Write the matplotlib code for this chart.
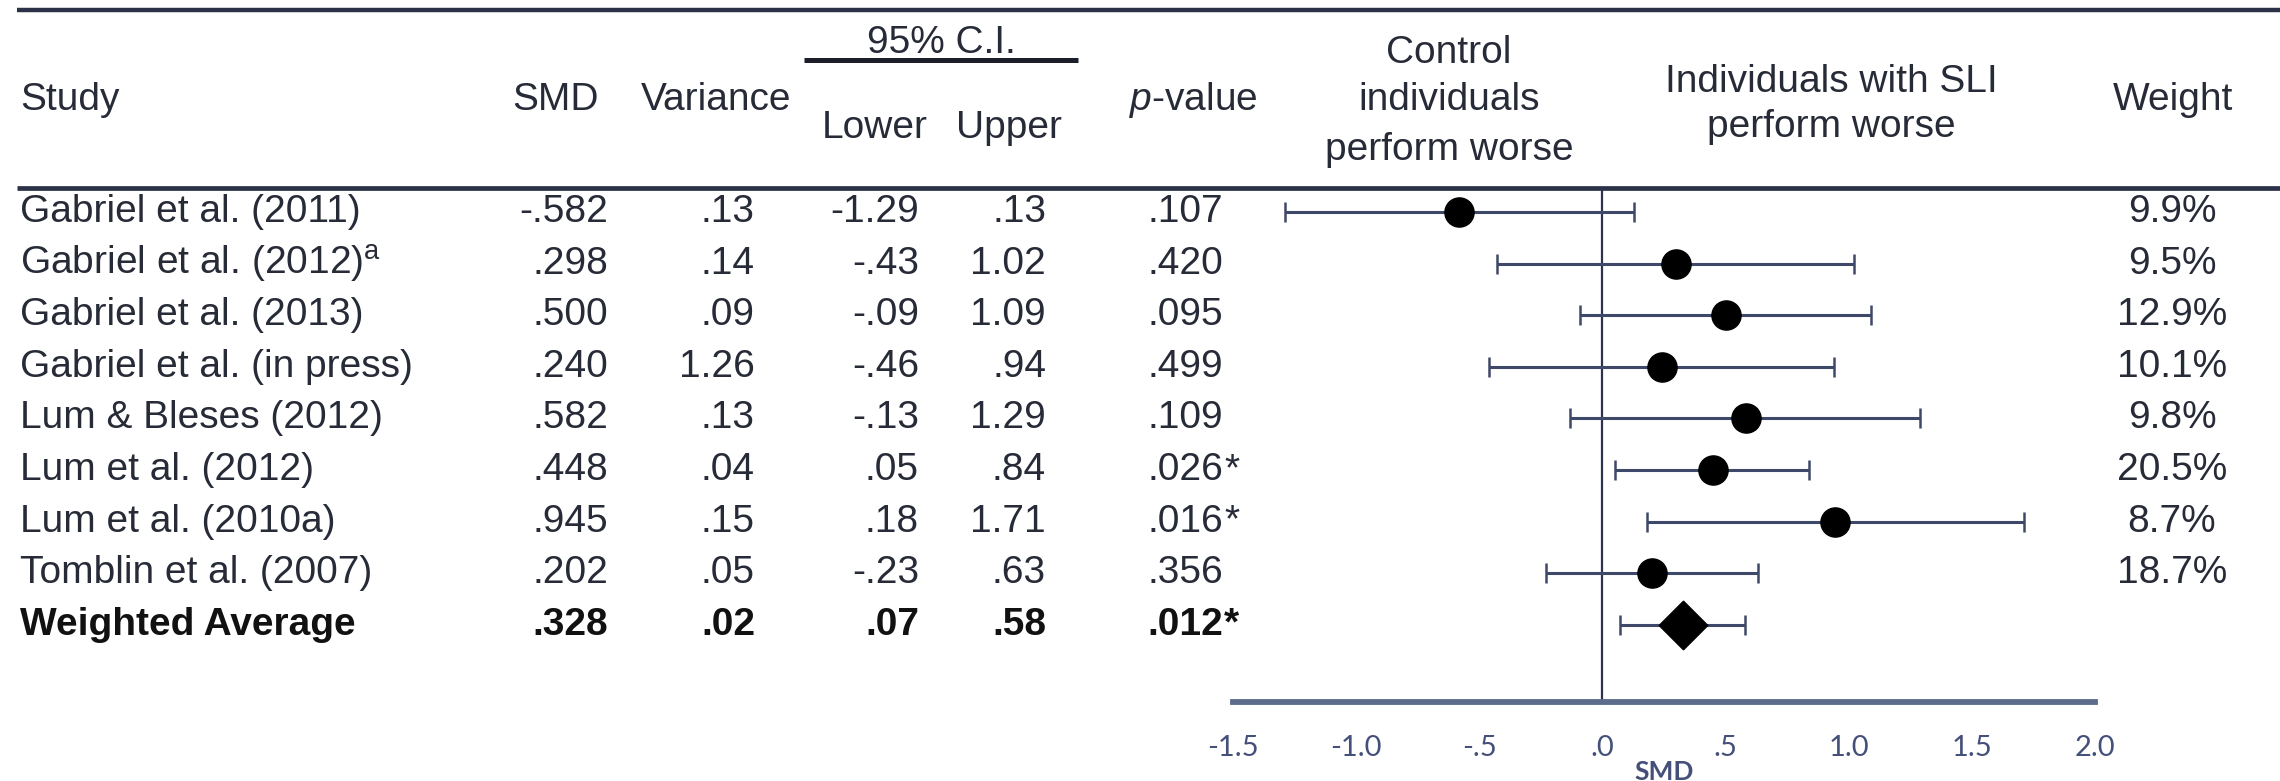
import matplotlib
matplotlib.use("Agg")
import matplotlib.pyplot as plt
import numpy as np

# ---- data -------------------------------------------------------------
studies = ["Gabriel et al. (2011)", "Gabriel et al. (2012)$^{\\mathrm{a}}$",
           "Gabriel et al. (2013)", "Gabriel et al. (in press)",
           "Lum & Bleses (2012)", "Lum et al. (2012)", "Lum et al. (2010a)",
           "Tomblin et al. (2007)"]
smd = [-0.582, 0.298, 0.500, 0.240, 0.582, 0.448, 0.945, 0.202]
variance = [0.13, 0.14, 0.09, 1.26, 0.13, 0.04, 0.15, 0.05]
lower = [-1.29, -0.43, -0.09, -0.46, -0.13, 0.05, 0.18, -0.23]
upper = [0.13, 1.02, 1.09, 0.94, 1.29, 0.84, 1.71, 0.63]
pvals = [0.107, 0.420, 0.095, 0.499, 0.109, 0.026, 0.016, 0.356]
weights = [9.9, 9.5, 12.9, 10.1, 9.8, 20.5, 8.7, 18.7]

pooled_label = "Weighted Average"
pooled_smd = 0.328
pooled_var = 0.02
pooled_lower = 0.07
pooled_upper = 0.58
pooled_p = 0.012

tick_values = [-1.5, -1.0, -0.5, 0.0, 0.5, 1.0, 1.5, 2.0]
tick_labels = ["-1.5", "-1.0", "-.5", ".0", ".5", "1.0", "1.5", "2.0"]


def fmt(v, nd):
    s = f"{v:.{nd}f}"
    return s.replace("0.", ".", 1) if abs(v) < 1 else s


# ---- styling ----------------------------------------------------------
plt.rcParams["font.family"] = ["Liberation Sans", "DejaVu Sans"]
plt.rcParams["mathtext.fontset"] = "custom"
plt.rcParams["mathtext.rm"] = "Liberation Sans"
plt.rcParams["mathtext.it"] = "Liberation Sans:italic"
plt.rcParams["mathtext.bf"] = "Liberation Sans:bold"

TXT = "#272b37"
RULE = "#2b3248"
CI = "#3e4868"
FS = 28

W, H = 2280, 781
fig = plt.figure(figsize=(W / 100, H / 100), dpi=100)
fig.patch.set_facecolor("white")

# full-figure layer in pixel units for the table
tab = fig.add_axes([0, 0, 1, 1])
tab.set_xlim(0, W)
tab.set_ylim(H, 0)
tab.axis("off")

row_y0, row_h = 212, 51.6
n = len(studies)

# rules
tab.plot([17, W], [10, 10], color=RULE, lw=3.2, solid_capstyle="butt")
tab.plot([17, W], [188, 188], color=RULE, lw=3.4, solid_capstyle="butt")
tab.plot([804, 1078], [60, 60], color="#1c1f2a", lw=3.6, solid_capstyle="butt")

# header
def htext(x, y, s, ha="center", **kw):
    tab.text(x, y, s, ha=ha, va="center", fontsize=FS, color=TXT, **kw)

htext(20, 100, "Study", ha="left")
htext(555, 100, "SMD")
htext(716, 100, "Variance")
htext(941, 43, "95% C.I.")
htext(875, 128, "Lower")
htext(1009, 128, "Upper")
htext(1193, 100, "$\\mathit{p}$-value")
htext(1449, 53, "Control")
htext(1449, 100, "individuals")
htext(1449, 150, "perform worse")
htext(1831, 82, "Individuals with SLI")
htext(1831, 127, "perform worse")
htext(2173, 100, "Weight")

# body rows
col_smd, col_var, col_low, col_up, col_p, col_w = 608, 755, 919, 1046, 1223, 2172


def row(i, name, s, v, lo, up, p, w=None, bold=False):
    y = row_y0 + i * row_h
    kw = dict(va="center", fontsize=FS, color="#111111" if bold else TXT,
              fontweight="bold" if bold else "normal")
    tab.text(20, y, name, ha="left", **kw)
    tab.text(col_smd, y, fmt(s, 3), ha="right", **kw)
    tab.text(col_var, y, fmt(v, 2), ha="right", **kw)
    tab.text(col_low, y, fmt(lo, 2), ha="right", **kw)
    tab.text(col_up, y, fmt(up, 2), ha="right", **kw)
    tab.text(col_p, y, fmt(p, 3), ha="right", **kw)
    if p < 0.05:
        tab.text(col_p + 1, y, "*", ha="left", **kw)
    if w is not None:
        tab.text(col_w, y, f"{w:.1f}%", ha="center", **kw)


for i in range(n):
    row(i, studies[i], smd[i], variance[i], lower[i], upper[i], pvals[i], weights[i])
row(n, pooled_label, pooled_smd, pooled_var, pooled_lower, pooled_upper, pooled_p, bold=True)

# ---- forest plot ------------------------------------------------------
x0, x1, top, bot = 1233, 2095, 188, 702
fa = fig.add_axes([x0 / W, 1 - bot / H, (x1 - x0) / W, (bot - top) / H])
fa.patch.set_alpha(0)
fa.set_xlim(tick_values[0], tick_values[-1])
fa.set_ylim((bot - row_y0) / row_h, (top - row_y0) / row_h)

ys = np.arange(n)
smd_a = np.array(smd)
err = [smd_a - np.array(lower), np.array(upper) - smd_a]
fa.axvline(0, color="#2a3350", lw=1.6, zorder=1)
fa.errorbar(smd_a, ys, xerr=err, fmt="none", ecolor=CI, elinewidth=2.2,
            capsize=7, capthick=1.8, zorder=2)
fa.plot(smd_a, ys, "o", ms=21, color="black", zorder=3)

fa.errorbar([pooled_smd], [n], xerr=[[pooled_smd - pooled_lower], [pooled_upper - pooled_smd]],
            fmt="none", ecolor=CI, elinewidth=2.2, capsize=7, capthick=1.8, zorder=2)
fa.plot([pooled_smd], [n], marker=(4, 0, 0), ms=35, color="black", zorder=3, ls="none")

for side in ("top", "left", "right"):
    fa.spines[side].set_visible(False)
fa.spines["bottom"].set_color("#5d6b8d")
fa.spines["bottom"].set_linewidth(4.2)
fa.set_yticks([])
fa.set_xticks(tick_values)
fa.set_xticklabels(tick_labels, fontfamily="Lato", fontsize=21, color="#44507a")
fa.tick_params(axis="x", length=0, pad=24)
fa.set_xlabel("SMD", fontfamily="Lato", fontsize=19, fontweight="bold", color="#44507a")
fa.xaxis.set_label_coords(0.5, -(772 - bot) / (bot - top))
fa.xaxis.label.set_va("center")

fig.savefig("out.png", dpi=100, facecolor="white")
